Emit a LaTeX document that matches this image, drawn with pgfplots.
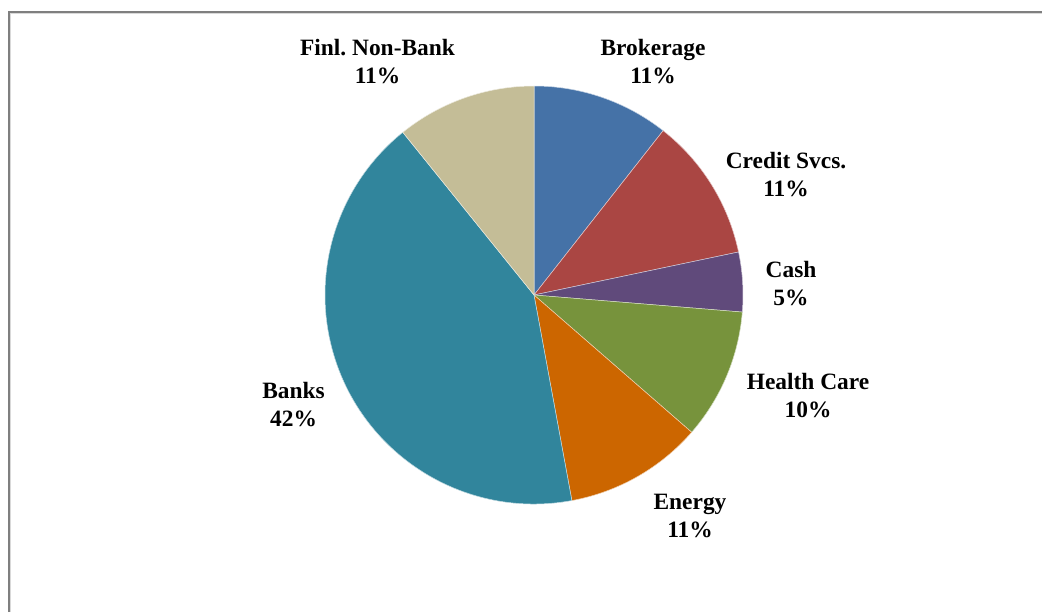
\documentclass[border=0pt]{standalone}
\usepackage{pgfplots}
\usepackage{pgfplotstable}
\pgfplotsset{compat=1.18}
\usepackage{fontspec}
\setmainfont{Liberation Serif}
\frenchspacing

\definecolor{brok}{HTML}{4572A7}
\definecolor{credit}{HTML}{AA4643}
\definecolor{cash}{HTML}{604A7B}
\definecolor{health}{HTML}{77933C}
\definecolor{energy}{HTML}{CC6600}
\definecolor{banks}{HTML}{31859C}
\definecolor{finl}{HTML}{C4BD97}
\definecolor{frame}{HTML}{7F7F7F}

\newcommand{\labelfont}{\fontsize{11.7}{14}\selectfont\bfseries}

% share (percent), shown label, colour, label position (px, y up)
\pgfplotstableread[col sep=comma]{
name,value,pct,col,lx,ly
Brokerage,10.6,11,brok,653,550
Credit Svcs.,11.1,11,credit,786,437
Cash,4.6,5,cash,791,328
Health Care,10.1,10,health,808,216
Energy,10.7,11,energy,690,96
Banks,42.1,42,banks,293.5,207
Finl. Non-Bank,10.8,11,finl,377.5,550
}\piedata

\begin{document}
\begin{tikzpicture}
\useasboundingbox (0,0) rectangle (521pt,306pt);
\begin{axis}[
  at={(0,0)}, anchor=south west,
  scale only axis, width=521pt, height=306pt,
  xmin=0, xmax=1042, ymin=0, ymax=612,
  hide axis, clip=false]
  % frame
  \draw[frame, line width=1pt] (axis cs:9,0) -- (axis cs:9,600) -- (axis cs:1042,600);
  \draw[black!15, line width=0.5pt] (axis cs:10.5,0) -- (axis cs:10.5,598.5) -- (axis cs:1042,598.5);
  \gdef\curang{90}
  \pgfplotstablegetrowsof{\piedata}
  \pgfmathtruncatemacro\lastrow{\pgfplotsretval-1}
  \pgfplotsinvokeforeach{0,...,\lastrow}{
    \pgfplotstablegetelem{#1}{value}\of\piedata \let\v=\pgfplotsretval
    \pgfplotstablegetelem{#1}{col}\of\piedata \let\c=\pgfplotsretval
    \pgfplotstablegetelem{#1}{name}\of\piedata \let\n=\pgfplotsretval
    \pgfplotstablegetelem{#1}{pct}\of\piedata \let\p=\pgfplotsretval
    \pgfplotstablegetelem{#1}{lx}\of\piedata \let\lx=\pgfplotsretval
    \pgfplotstablegetelem{#1}{ly}\of\piedata \let\ly=\pgfplotsretval
    \pgfmathsetmacro\endang{\curang-3.6*\v}
    \edef\cmd{%
      \noexpand\fill[fill=\c, draw=white!70!\c, line width=0.25pt]
        (axis cs:534,317) -- ++(\curang:104.5pt)
        arc[start angle=\curang, end angle=\endang, radius=104.5pt] -- cycle;
      \noexpand\node[align=center, font=\noexpand\labelfont, inner sep=0pt]
        at (axis cs:\lx,\ly) {\n\noexpand\\\p\noexpand\%};
    }\cmd
    \xdef\curang{\endang}
  }
\end{axis}
\end{tikzpicture}
\end{document}
